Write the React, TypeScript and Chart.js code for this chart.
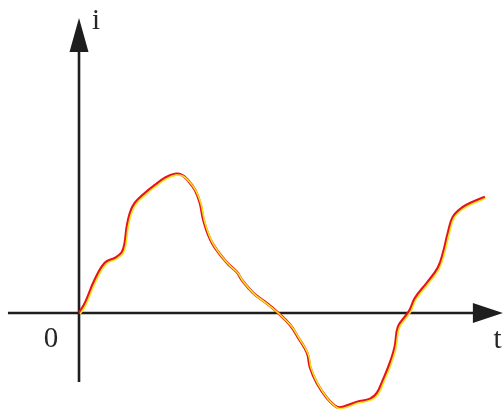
import React, { useEffect, useRef } from "react";
import { Chart, registerables } from "chart.js";

Chart.register(...registerables);

// time values (arbitrary units)
const tValues: number[] = [
  0, 0.15, 0.39, 0.64, 0.89, 1.06, 1.13, 1.18, 1.26, 1.38, 1.63, 1.87, 2.12, 2.36, 2.54, 2.68,
  2.86, 2.98, 3.08, 3.28, 3.65, 3.89, 4.01, 4.29, 4.58, 4.88, 5.2, 5.39, 5.62, 5.69, 5.86,
  6.11, 6.35, 6.5, 6.85, 7.17, 7.34, 7.49, 7.66, 7.78, 7.86, 8.03, 8.15, 8.28, 8.57, 8.84,
  8.97, 9.09, 9.21, 9.43, 9.7, 10.0,
];
// current values (arbitrary units)
const iValues: number[] = [
  0, 0.36, 1.19, 1.8, 1.98, 2.19, 2.52, 3.09, 3.6, 3.96, 4.32, 4.6, 4.86, 5.0, 4.96, 4.78,
  4.42, 3.96, 3.27, 2.52, 1.8, 1.47, 1.19, 0.72, 0.4, 0.04, -0.43, -0.86, -1.44, -1.94, -2.52,
  -3.06, -3.38, -3.38, -3.2, -3.09, -2.88, -2.41, -1.8, -1.22, -0.5, -0.14, 0.11, 0.54, 1.08,
  1.62, 2.16, 2.88, 3.45, 3.78, 3.99, 4.17,
];

// axis extents
const xAxisRange: number[] = [-1.75, 10.44];
const yAxisRange: number[] = [-2.48, 10.61];
// axis labels: text, t, i
const axisLabels: [string, number, number][] = [
  ["i", 0.42, 10.22],
  ["0", -0.69, -1.22],
  ["t", 10.31, -1.26],
];

export default function App() {
  const ref = useRef<HTMLCanvasElement | null>(null);
  useEffect(() => {
    if (!ref.current) return;
    const pts = tValues.map((t, k) => ({ x: t, y: iValues[k] }));

    const axesPlugin = {
      id: "axes",
      beforeDatasetsDraw(chart: any) {
        const { ctx, scales } = chart;
        const xs = scales.x, ys = scales.y;
        const y0 = ys.getPixelForValue(0);
        const x0 = xs.getPixelForValue(0);
        ctx.save();
        ctx.strokeStyle = "#1e1e1e";
        ctx.fillStyle = "#1e1e1e";
        ctx.lineWidth = 2.6;
        // horizontal axis
        const xa = xs.getPixelForValue(xAxisRange[0]);
        const xb = xs.getPixelForValue(xAxisRange[1]);
        ctx.beginPath();
        ctx.moveTo(xa, y0);
        ctx.lineTo(xb - 20, y0);
        ctx.stroke();
        ctx.beginPath();
        ctx.moveTo(xb, y0);
        ctx.lineTo(xb - 30, y0 - 10);
        ctx.lineTo(xb - 30, y0 + 10);
        ctx.closePath();
        ctx.fill();
        // vertical axis
        const ya = ys.getPixelForValue(yAxisRange[0]);
        const yb = ys.getPixelForValue(yAxisRange[1]);
        ctx.beginPath();
        ctx.moveTo(x0, ya);
        ctx.lineTo(x0, yb + 20);
        ctx.stroke();
        ctx.beginPath();
        ctx.moveTo(x0, yb);
        ctx.lineTo(x0 - 9.5, yb + 34);
        ctx.lineTo(x0 + 9.5, yb + 34);
        ctx.closePath();
        ctx.fill();
        // labels
        ctx.font = "29px 'Liberation Serif', 'DejaVu Serif', serif";
        ctx.textAlign = "center";
        ctx.textBaseline = "alphabetic";
        ctx.fillStyle = "#262626";
        for (const [txt, t, i] of axisLabels) {
          ctx.fillText(txt, xs.getPixelForValue(t), ys.getPixelForValue(i));
        }
        ctx.restore();
      },
      beforeDatasetDraw(chart: any, args: any) {
        if (args.index === 0) {
          chart.ctx.save();
          chart.ctx.translate(1.1, 1.1);
        }
      },
      afterDatasetDraw(chart: any, args: any) {
        if (args.index === 0) chart.ctx.restore();
      },
    };

    const chart = new Chart(ref.current, {
      type: "line",
      data: {
        datasets: [
          {
            data: pts,
            borderColor: "#f4e420",
            borderWidth: 1.6,
            pointRadius: 0,
            tension: 0.4,
            fill: false,
          },
          {
            data: pts,
            borderColor: "#e8121c",
            borderWidth: 2.8,
            pointRadius: 0,
            tension: 0.4,
            fill: false,
          },
        ],
      },
      options: {
        animation: false,
        responsive: false,
        devicePixelRatio: 1,
        layout: { padding: 0 },
        plugins: { legend: { display: false }, tooltip: { enabled: false } },
        scales: {
          x: { type: "linear", min: -1.946, max: 10.443, display: false },
          y: { type: "linear", min: -3.56, max: 11.26, display: false },
        },
      },
      plugins: [axesPlugin],
    });
    return () => chart.destroy();
  }, []);

  return (
    <div style={{ position: "fixed", left: 0, top: 0, width: 503, height: 412, background: "#fff" }}>
      <canvas ref={ref} width={503} height={412} />
    </div>
  );
}
